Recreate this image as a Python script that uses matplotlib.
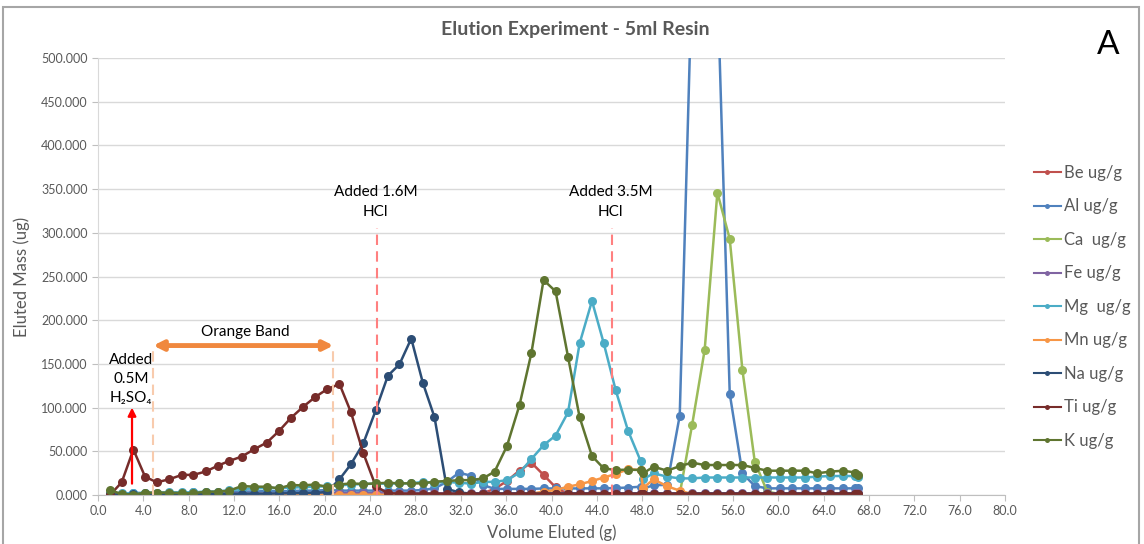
import matplotlib
matplotlib.use("Agg")
import matplotlib.pyplot as plt
from matplotlib.patches import Rectangle

plt.rcParams['font.family'] = ['Lato', 'DejaVu Sans']

# ---------------- data ----------------
volume = [1.06, 2.09, 3.12, 4.15, 5.18, 6.29, 7.39, 8.41, 9.53, 10.56,
          11.59, 12.68, 13.80, 14.89, 15.95, 17.0, 18.1, 19.15, 20.2, 21.3,
          22.3, 23.4, 24.5, 25.57, 26.59, 27.63, 28.66, 29.68, 30.78, 31.84,
          32.92, 33.95, 34.98, 36.07, 37.18, 38.22, 39.30, 40.36, 41.46, 42.48,
          43.57, 44.60, 45.66, 46.75, 47.86, 48.07, 49.01, 50.19, 51.31, 52.40,
          53.51, 54.63, 55.72, 56.84, 57.93, 59.02, 60.13, 61.22, 62.34, 63.43,
          64.54, 65.72, 66.80, 67.05]

be = [0.3, 0.3, 0.3, 0.3, 0.3, 0.3, 0.3, 0.3, 0.3, 0.3,
      0.3, 0.3, 0.3, 0.3, 0.3, 0.3, 0.3, 0.3, 0.3, 0.3,
      0.3, 0.3, 0.3, 0.3, 0.3, 0.3, 0.3, 0.3, 0.3, 0.5,
      0.8, 2.0, 7.0, 16.0, 28.0, 37.0, 23.0, 8.8, 1.0, 0.5,
      0.5, 0.5, 0.5, 0.5, 0.5, 0.5, 0.5, 0.5, 0.5, 0.5,
      0.5, 0.5, 0.5, 0.5, 0.5, 0.5, 0.5, 0.5, 0.5, 0.5,
      0.5, 0.5, 0.5, 0.5]

al = [1.5, 1.5, 2.5, 2.0, 2.5, 2.5, 2.5, 3.0, 3.0, 3.0,
      3.5, 4.0, 4.0, 4.5, 4.5, 4.5, 5.0, 5.0, 5.7, 5.0,
      5.0, 5.0, 5.0, 5.0, 5.0, 5.0, 5.7, 7.6, 15.0, 25.5,
      22.0, 11.4, 7.0, 7.0, 7.0, 7.0, 7.5, 7.5, 7.5, 7.5,
      7.6, 7.6, 8.0, 8.5, 9.5, 7.0, 11.4, 11.4, 90.8, 598.0,
      1100.0, 588.0, 116.0, 24.8, 10.3, 7.6, 7.6, 7.6, 7.6, 7.6,
      7.6, 7.6, 7.6, 7.6]

ca = [0.5, 0.5, 0.5, 0.5, 0.5, 0.5, 0.5, 0.5, 0.5, 0.5,
      0.5, 0.5, 0.5, 0.5, 0.5, 0.5, 0.5, 0.5, 0.5, 0.5,
      0.5, 0.5, 0.5, 0.5, 0.5, 0.5, 0.5, 0.5, 0.5, 0.5,
      0.5, 0.5, 0.5, 0.5, 0.5, 0.5, 0.5, 0.5, 0.5, 0.5,
      0.5, 0.5, 0.5, 0.5, 0.5, 0.5, 0.5, 0.5, 1.0, 80.0,
      166.0, 346.0, 293.0, 143.0, 38.0, 4.0, 1.0, 1.0, 1.0, 1.0,
      1.0, 1.0, 1.0, 1.0]

fe = [1.5, 1.5, 1.5, 1.5, 1.5, 1.5, 1.5, 1.5, 1.5, 1.5,
      1.5, 1.5, 1.5, 1.5, 1.5, 1.5, 1.5, 1.5, 2.0, 2.0,
      2.0, 2.0, 2.0, 2.0, 2.0, 2.0, 2.0, 2.0, 2.0, 2.0,
      2.0, 2.0, 2.0, 2.0, 2.0, 2.0, 2.0, 2.0, 2.0, 2.0,
      2.0, 2.0, 2.0, 2.0, 2.0, 2.0, 2.0, 2.0, 2.0, 2.0,
      2.0, 2.0, 2.0, 2.0, 2.0, 2.0, 2.0, 2.0, 2.0, 2.0,
      2.0, 2.0, 2.0, 2.0]

mg = [2.5, 2.0, 2.0, 2.5, 2.5, 3.0, 3.0, 3.0, 4.0, 4.0,
      5.5, 7.0, 7.5, 8.0, 8.0, 8.5, 9.0, 9.5, 10.0, 11.0,
      12.0, 12.5, 13.0, 13.0, 13.3, 13.3, 15.0, 14.0, 15.0, 14.0,
      13.0, 15.0, 15.0, 17.0, 25.5, 41.0, 57.0, 68.0, 94.6, 173.5,
      222.0, 174.0, 120.0, 73.6, 39.0, 18.0, 24.8, 21.0, 19.0, 19.0,
      20.0, 20.0, 20.0, 20.0, 20.0, 20.0, 20.0, 20.0, 20.0, 21.0,
      21.7, 21.7, 21.7, 21.0]

mn = [0.3, 0.3, 0.3, 0.3, 0.3, 0.3, 0.3, 0.3, 0.3, 0.3,
      0.3, 0.3, 0.3, 0.3, 0.3, 0.3, 0.3, 0.3, 0.3, 0.3,
      0.3, 0.3, 0.3, 0.3, 0.3, 0.3, 0.3, 0.3, 0.3, 0.3,
      0.3, 0.3, 0.3, 0.5, 0.8, 1.5, 3.8, 5.7, 9.5, 12.2,
      16.0, 20.0, 24.0, 29.5, 28.6, 8.0, 18.0, 10.0, 5.0, 1.0,
      0.3, 0.3, 0.3, 0.3, 0.3, 0.3, 0.3, 0.3, 0.3, 0.3,
      0.3, 0.3, 0.3, 0.3]

na = [0.8, 0.5, 1.0, 0.8, 0.9, 1.0, 1.0, 1.2, 1.0, 1.0,
      1.2, 1.5, 1.5, 1.5, 1.8, 2.0, 2.2, 2.5, 3.5, 18.0,
      35.0, 59.0, 97.0, 136.5, 149.5, 179.0, 128.0, 89.0, 7.0, 3.0,
      1.5, 1.5, 1.5, 1.5, 1.5, 1.5, 1.5, 1.5, 1.5, 1.5,
      1.5, 1.5, 1.5, 1.5, 1.5, 1.5, 1.5, 1.5, 1.5, 1.5,
      1.5, 1.5, 1.5, 1.5, 1.5, 1.5, 1.5, 1.5, 1.5, 1.5,
      1.5, 1.5, 1.5, 1.5]

ti = [0.0, 14.5, 52.0, 21.0, 14.5, 18.0, 23.0, 23.0, 27.0, 33.5,
      39.0, 44.0, 52.5, 60.0, 73.0, 88.0, 101.0, 112.0, 121.0, 127.0,
      95.0, 48.0, 10.0, 2.0, 1.5, 1.5, 1.5, 1.5, 1.5, 1.5,
      1.5, 1.5, 1.5, 1.5, 1.5, 1.5, 1.5, 1.5, 1.5, 1.5,
      1.5, 1.5, 1.5, 1.5, 1.5, 1.5, 1.5, 1.5, 1.5, 1.5,
      1.5, 1.5, 1.5, 1.5, 1.5, 1.5, 1.5, 1.5, 1.5, 1.5,
      1.5, 1.5, 1.5, 1.5]

k = [5.7, 1.0, 0.5, 2.7, 2.7, 2.7, 2.0, 2.0, 3.8, 3.8,
     5.0, 10.3, 9.5, 9.5, 7.6, 11.4, 11.0, 12.0, 9.5, 12.0,
     13.3, 12.6, 13.3, 14.0, 13.3, 13.3, 13.3, 15.3, 16.0, 17.0,
     17.0, 19.0, 26.7, 56.0, 103.0, 162.0, 246.0, 233.0, 158.0, 89.0,
     44.6, 30.5, 28.6, 29.0, 28.6, 24.8, 32.4, 27.8, 33.0, 37.0,
     34.3, 34.3, 34.3, 34.3, 31.0, 27.8, 27.8, 27.8, 27.8, 24.8,
     26.7, 27.8, 25.7, 23.0]

series_names = ["Be ug/g", "Al ug/g", "Ca  ug/g", "Fe ug/g", "Mg  ug/g",
                "Mn ug/g", "Na ug/g", "Ti ug/g", "K ug/g"]
series_values = [be, al, ca, fe, mg, mn, na, ti, k]
series_colors = ["#C0504D", "#4F81BD", "#9BBB59", "#8064A2", "#4BACC6",
                 "#F79646", "#2C4D75", "#772C2A", "#5F7530"]

x_ticks = [0, 4, 8, 12, 16, 20, 24, 28, 32, 36, 40, 44, 48, 52, 56, 60, 64, 68, 72, 76, 80]
y_ticks = [0, 50, 100, 150, 200, 250, 300, 350, 400, 450, 500]

# ---------------- figure ----------------
W, H = 1144, 544
fig = plt.figure(figsize=(W / 100, H / 100), dpi=100)
ax = fig.add_axes([98 / W, (H - 495) / H, (1005 - 98) / W, (495 - 58) / H])

gray = "#595959"
for name, vals, col in zip(series_names, series_values, series_colors):
    ax.plot(volume, vals, color=col, lw=1.8, marker='o', ms=6.5,
            markeredgewidth=0, label=name, clip_on=True)

ax.set_xlim(0, 80)
ax.set_ylim(0, 500)
ax.set_xticks(x_ticks)
ax.set_xticklabels([f"{v:.1f}" for v in x_ticks])
ax.set_yticks(y_ticks)
ax.set_yticklabels([f"{v:.3f}" for v in y_ticks])
ax.tick_params(axis='both', colors="#BFBFBF", labelcolor=gray, labelsize=9,
               length=4, width=0.8)
ax.grid(axis='y', color="#D9D9D9", lw=1)
ax.set_axisbelow(True)
for s in ['top', 'right']:
    ax.spines[s].set_visible(False)
ax.spines['left'].set_color("#D9D9D9")
ax.spines['bottom'].set_color("#BFBFBF")

ax.set_xlabel("Volume Eluted (g)", color=gray, fontsize=12, labelpad=5)
ax.set_ylabel("Eluted Mass (ug)", color=gray, fontsize=12, labelpad=8)

fig.text(575 / W, 1 - 30 / H, "Elution Experiment - 5ml Resin", ha='center',
         va='center', fontsize=14, fontweight='bold', color=gray)
fig.text(1108 / W, 1 - 45 / H, "A", ha='center', va='center', fontsize=24,
         color='black')

# ---------------- annotations ----------------
ax.annotate("", xy=(3.0, 100), xytext=(3.0, 13),
            arrowprops=dict(arrowstyle='-|>', color='red', lw=1.6,
                            mutation_scale=12, shrinkA=0, shrinkB=0))
ax.text(2.9, 133, "Added\n0.5M\nH\u2082SO\u2084", ha='center', va='center',
        fontsize=11, color='black', linespacing=1.45)

for xv in (4.87, 20.77):
    ax.plot([xv, xv], [0, 172], color="#F8CBAD", lw=1.5, ls=(0, (5, 3)))
ax.annotate("", xy=(4.87, 171), xytext=(20.77, 171),
            arrowprops=dict(arrowstyle='<|-|>', color="#F0883E", lw=3.5,
                            mutation_scale=14, shrinkA=0, shrinkB=0))
ax.text(13.0, 187, "Orange Band", ha='center', va='center', fontsize=11,
        color='black')

for xv, txt in ((24.6, "Added 1.6M\nHCl"), (45.3, "Added 3.5M\nHCl")):
    ax.plot([xv, xv], [0, 306], color="#FF8080", lw=1.5, ls=(0, (5, 3)))
    ax.text(xv - 0.1, 335, txt, ha='center', va='center', fontsize=11,
            color='black', linespacing=1.5)

# Legend
handles, labels = ax.get_legend_handles_labels()
leg = fig.legend(handles, labels, loc='upper left',
                 bbox_to_anchor=(1034 / W, 1 - 165 / H), frameon=False,
                 borderpad=0, borderaxespad=0,
                 fontsize=12, labelcolor=gray, handlelength=1.6,
                 handletextpad=0.2, labelspacing=1.05, markerscale=0.55)
for h in leg.legend_handles:
    h.set_linewidth(1.5)

fig.patches.append(Rectangle((3 / W, -0.02), (1139 - 3) / W, 1 - 7 / H + 0.02,
                             transform=fig.transFigure, fill=False,
                             edgecolor="#A6A6A6", lw=1.5))

fig.savefig("out.png", dpi=100)
